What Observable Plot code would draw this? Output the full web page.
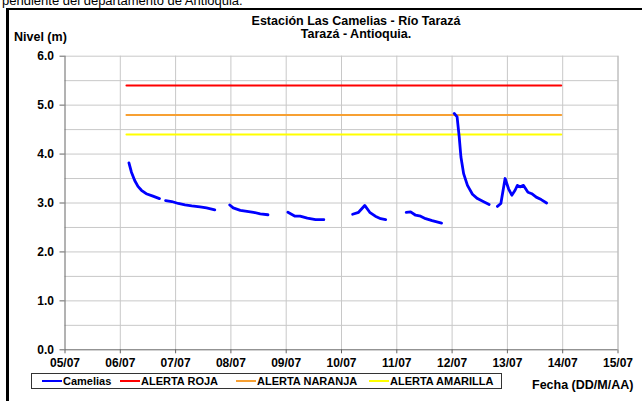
<!DOCTYPE html>
<html><head><meta charset="utf-8">
<script src="https://cdn.jsdelivr.net/npm/d3@7"></script>
<script src="https://cdn.jsdelivr.net/npm/@observablehq/plot@0.6"></script>
<style>
html,body{margin:0;padding:0;background:#fff;}
body{width:642px;height:401px;position:relative;overflow:hidden;font-family:"Liberation Sans",Arial,sans-serif;}
#top{position:absolute;left:2px;top:-7px;font-size:13px;color:#000;white-space:nowrap;}
#frame{position:absolute;left:6px;top:8px;width:700px;height:500px;border-left:3px solid #000;border-top:2.5px solid #000;}
#chart{position:absolute;left:0;top:0;}
.t{position:absolute;font-weight:bold;font-size:13px;color:#000;white-space:nowrap;}
#title{left:0;width:712px;text-align:center;top:15px;line-height:13px;font-size:12.5px;}
#legend{position:absolute;left:31px;top:373px;width:469px;height:14px;border:1px solid #333;}
.li{position:absolute;top:0;height:14px;display:flex;align-items:center;font-weight:bold;font-size:11px;white-space:nowrap;}
.li span.sw{display:inline-block;width:20px;height:2px;margin-right:1px;}
</style></head>
<body>
<div id="top">pendiente del departamento de Antioquia.</div>
<div id="frame"></div>
<div id="chart"></div>
<div class="t" id="title">Estación Las Camelias - Río Tarazá<br>Tarazá - Antioquia.</div>
<div class="t" style="left:14px;top:30px;font-size:12.5px;">Nivel (m)</div>
<div class="t" style="left:532px;top:378px;font-size:12.5px;">Fecha (DD/M/AA)</div>
<div id="legend"></div>
<script>
// ---- data ----
const xTickLabels = ["05/07","06/07","07/07","08/07","09/07","10/07","11/07","12/07","13/07","14/07","15/07"];
const yTickValues = [0,1,2,3,4,5,6];
const yGridValues = [0.5,1,1.5,2,2.5,3,3.5,4,4.5,5,5.5,6];

// Camelias water level (null = gap in record)
const camTime = [
 "07-06 03:45","07-06 04:50","07-06 06:15","07-06 07:40","07-06 09:10","07-06 11:15","07-06 14:10","07-06 17:00", null,
 "07-06 19:40","07-06 22:20","07-07 01:10","07-07 04:05","07-07 07:00","07-07 10:35","07-07 13:25","07-07 17:00", null,
 "07-07 23:30","07-08 01:00","07-08 04:05","07-08 07:00","07-08 09:50","07-08 12:45","07-08 16:05", null,
 "07-09 00:45","07-09 03:50","07-09 06:00","07-09 09:10","07-09 12:45","07-09 16:20", null,
 "07-10 04:50","07-10 07:25","07-10 10:05","07-10 12:15","07-10 14:40","07-10 17:00","07-10 19:10", null,
 "07-11 04:05","07-11 06:00","07-11 08:10","07-11 10:20","07-11 12:30","07-11 15:20","07-11 19:25", null,
 "07-12 00:55","07-12 02:10","07-12 03:05","07-12 03:50","07-12 05:00","07-12 06:40","07-12 08:50","07-12 11:00","07-12 13:55","07-12 16:05", null,
 "07-12 19:40","07-12 21:10","07-12 23:00","07-13 00:30","07-13 01:55","07-13 03:20","07-13 04:20","07-13 05:30","07-13 07:00","07-13 08:55","07-13 10:35","07-13 12:30","07-13 14:40","07-13 17:00"
];
const camLevel = [
 3.82,3.63,3.46,3.34,3.26,3.19,3.14,3.09, null,
 3.05,3.03,2.99,2.96,2.94,2.92,2.90,2.86, null,
 2.96,2.90,2.85,2.83,2.81,2.78,2.76, null,
 2.81,2.73,2.73,2.69,2.66,2.66, null,
 2.77,2.81,2.95,2.81,2.73,2.68,2.66, null,
 2.81,2.82,2.75,2.73,2.68,2.64,2.59, null,
 4.83,4.76,4.35,3.94,3.60,3.36,3.18,3.09,3.02,2.97, null,
 2.93,2.99,3.50,3.29,3.16,3.26,3.36,3.33,3.36,3.22,3.19,3.12,3.07,3.00
];

// alert thresholds
const alertNames = ["ALERTA ROJA","ALERTA NARANJA","ALERTA AMARILLA"];
const alertLevels = [5.4, 4.8, 4.4];
const alertColors = ["#ff0000","#f7a033","#ffff00"];
const alertFrom = "07-06 02:40";
const alertTo = "07-13 23:20";

const seriesNames = ["Camelias", ...alertNames];
const seriesColors = ["#0000ff", ...alertColors];

// ---- build ----
const YEAR = "2011";
const parse = s => s == null ? null : new Date(`${YEAR}-${s.slice(0,5)}T${s.slice(6)}:00Z`);
const xTicks = xTickLabels.map(l => new Date(`${YEAR}-${l.slice(3)}-${l.slice(0,2)}T00:00:00Z`));
const camData = camTime.map((t,i) => ({t: parse(t), v: camLevel[i]}));
const alertData = alertNames.flatMap((n,i) => [
  {name:n, t: parse(alertFrom), v: alertLevels[i]},
  {name:n, t: parse(alertTo), v: alertLevels[i]}
]);

const chart = Plot.plot({
  width: 642, height: 401,
  marginLeft: 64.5, marginRight: 24.5, marginTop: 55.7, marginBottom: 51.7,
  style: {fontFamily: '"Liberation Sans", Arial, sans-serif', fontSize: "12px", fontWeight: "bold", color: "#000", background: "transparent"},
  x: {type: "utc", domain: [xTicks[0], xTicks[xTicks.length-1]], label: null},
  y: {domain: [0, 6], label: null},
  color: {domain: alertNames, range: alertColors},
  marks: [
    Plot.gridX(xTicks.slice(1, -1), {stroke: "#c8c8c8", strokeOpacity: 1, strokeWidth: 1}),
    Plot.gridY(yGridValues, {stroke: "#c8c8c8", strokeOpacity: 1, strokeWidth: 1}),
    Plot.ruleX([xTicks[xTicks.length-1]], {stroke: "#a0a0a0", strokeWidth: 1}),
    Plot.axisY(yTickValues, {tickSize: 5, tickPadding: 6, tickFormat: d3.format(".1f"), stroke: "#666", fill: "#000", label: null}),
    Plot.axisX(xTicks, {tickSize: 4, tickPadding: 5, tickFormat: (d,i) => xTickLabels[i], stroke: "#666", fill: "#000", label: null}),
    Plot.ruleY([0], {stroke: "#666"}),
    Plot.ruleX([xTicks[0]], {stroke: "#666"}),
    Plot.line(alertData, {x: "t", y: "v", z: "name", stroke: "name", strokeWidth: 2}),
    Plot.line(camData, {x: "t", y: "v", stroke: "#0000ff", strokeWidth: 2.8, strokeLinejoin: "round", strokeLinecap: "round"})
  ]
});
document.getElementById("chart").appendChild(chart);

// legend
const legendLeft = [10, 88, 204, 337];
const leg = document.getElementById("legend");
seriesNames.forEach((n,i) => {
  const d = document.createElement("div");
  d.className = "li";
  d.style.left = legendLeft[i] + "px";
  d.innerHTML = `<span class="sw" style="background:${seriesColors[i]}"></span>${n}`;
  leg.appendChild(d);
});
</script>
</body></html>
